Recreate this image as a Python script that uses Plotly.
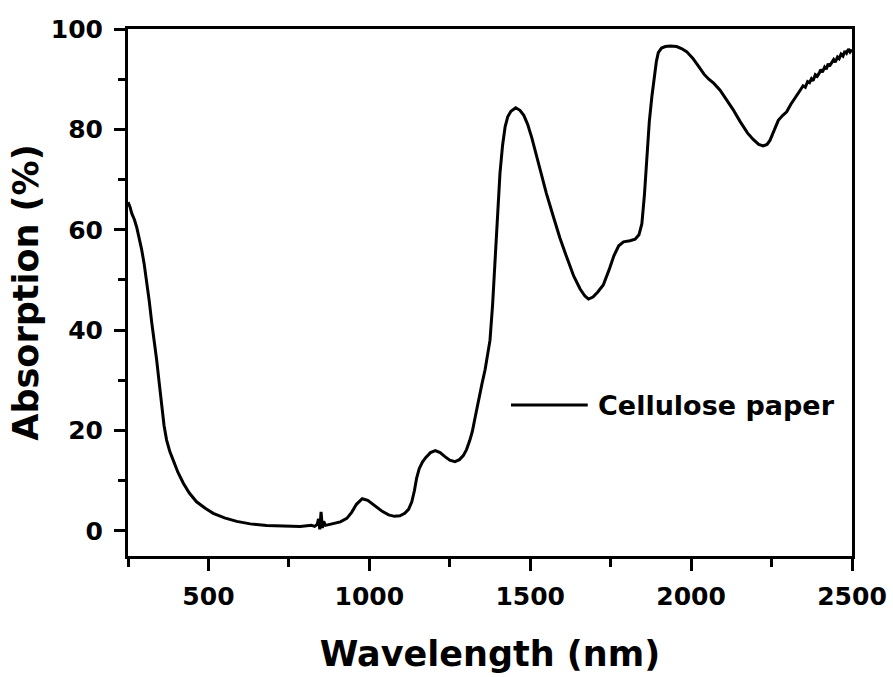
import plotly.graph_objects as go

# Absorption spectrum of cellulose paper (wavelength in nm, absorption in %)
wavelength = [
    250, 256, 262, 270, 277, 285, 292, 300, 308, 316, 324, 332, 339, 347, 355, 362, 370,
    380, 391, 405, 422, 440, 463, 490, 515, 550, 588, 630, 681, 730, 785, 820, 830, 838,
    842, 846, 850, 854, 858, 864, 875, 888, 910, 930, 945, 960, 978, 995, 1010, 1023,
    1040, 1060, 1078, 1095, 1110, 1122, 1132, 1140, 1147, 1155, 1165, 1175, 1190, 1205,
    1220, 1235, 1250, 1266, 1280, 1292, 1302, 1312, 1320, 1330, 1339, 1350, 1360, 1368,
    1375, 1383, 1391, 1398, 1406, 1414, 1422, 1430, 1440, 1455, 1468, 1480, 1492, 1505,
    1518, 1530, 1550, 1572, 1592, 1613, 1635, 1655, 1670, 1681, 1695, 1710, 1727, 1745,
    1760, 1775, 1790, 1810, 1826, 1838, 1847, 1855, 1862, 1870, 1878, 1885, 1892, 1898,
    1908, 1920, 1935, 1955, 1970, 1986, 2005, 2025, 2040, 2055, 2070, 2090, 2110, 2130,
    2152, 2175, 2193, 2210, 2224, 2236, 2245, 2253, 2262, 2271, 2285, 2297, 2310, 2325,
    2339, 2348, 2355, 2362, 2368, 2374, 2379, 2386, 2392, 2398, 2403, 2408, 2415, 2420,
    2426, 2430, 2436, 2443, 2448, 2455, 2460, 2466, 2472, 2478, 2483, 2489, 2494, 2500,
]
absorption = [
    65.5, 64.6, 63.2, 62.0, 60.5, 58.3, 56.2, 53.3, 50.0, 45.8, 41.4, 37.8, 34.1, 29.5,
    24.8, 21.0, 18.1, 15.8, 14.0, 11.7, 9.5, 7.6, 5.8, 4.5, 3.5, 2.6, 1.9, 1.4, 1.1, 1.0,
    0.9, 1.1, 0.9, 1.3, 2.4, 0.3, 3.8, 0.6, 1.9, 1.1, 1.3, 1.4, 1.8, 2.5, 3.7, 5.3, 6.4,
    6.1, 5.4, 4.8, 3.9, 3.2, 2.9, 3.0, 3.5, 4.3, 5.8, 8.0, 10.5, 12.4, 13.7, 14.6, 15.6,
    16.0, 15.6, 14.8, 14.1, 13.8, 14.2, 15.0, 16.2, 18.0, 19.8, 23.0, 26.1, 29.3, 32.2,
    35.0, 38.0, 45.0, 54.6, 63.0, 71.3, 76.8, 80.5, 82.5, 83.6, 84.3, 83.8, 82.8, 81.0,
    78.3, 75.0, 71.9, 67.3, 62.6, 58.4, 54.6, 50.8, 48.2, 46.8, 46.2, 46.6, 47.6, 49.0,
    52.0, 54.8, 56.8, 57.6, 57.8, 58.1, 59.0, 61.2, 67.0, 74.6, 81.5, 86.5, 90.2, 93.5,
    95.3, 96.2, 96.5, 96.6, 96.5, 96.1, 95.5, 94.2, 92.4, 91.0, 90.0, 89.2, 87.8, 86.0,
    84.0, 81.6, 79.3, 78.0, 77.0, 76.7, 77.0, 77.8, 79.0, 80.6, 81.8, 82.8, 83.5, 85.0,
    86.6, 87.8, 88.7, 88.4, 89.5, 89.3, 90.1, 89.7, 90.9, 90.6, 91.2, 91.9, 91.4, 92.4,
    92.0, 93.1, 92.6, 93.3, 93.9, 93.4, 94.4, 94.1, 95.0, 94.6, 95.6, 95.2, 96.0, 95.4,
    95.9,
]
series_name = "Cellulose paper"

x_ticks = [500, 1000, 1500, 2000, 2500]
y_ticks = [0, 20, 40, 60, 80, 100]

FONT = "DejaVu Sans"

fig = go.Figure()
fig.add_trace(go.Scatter(
    x=wavelength, y=absorption, mode="lines", name=series_name,
    line=dict(color="black", width=3), showlegend=False,
))

axis_common = dict(
    showline=True, linewidth=3, linecolor="black", mirror=True,
    showgrid=False, zeroline=False,
    ticks="outside", tickwidth=3, tickcolor="black",
    tickfont=dict(family=FONT, size=25, color="black", weight="bold"),
)

fig.update_xaxes(
    range=[250, 2500], tickvals=x_ticks, ticklen=12,
    minor=dict(dtick=250, tick0=250, ticks="outside", ticklen=8, tickwidth=3,
               tickcolor="black"),
    ticklabelstandoff=4,
    title=dict(text="Wavelength (nm)", standoff=32,
               font=dict(family=FONT, size=35, color="black", weight="bold")),
    **axis_common,
)
fig.update_yaxes(
    range=[-5, 100], tickvals=y_ticks, ticklen=11,
    minor=dict(dtick=10, tick0=0, ticks="outside", ticklen=7, tickwidth=3,
               tickcolor="black"),
    ticklabelstandoff=6,
    title=dict(text="Absorption (%)", standoff=2,
               font=dict(family=FONT, size=35, color="black", weight="bold")),
    **axis_common,
)

# Legend entry: sample line plus label
fig.add_shape(type="line", xref="paper", yref="paper",
              x0=0.529, x1=0.635, y0=0.2865, y1=0.2865,
              line=dict(color="black", width=3))
fig.add_annotation(xref="paper", yref="paper", x=0.646, y=0.2865,
                   xanchor="left", yanchor="middle", showarrow=False,
                   text=series_name,
                   font=dict(family=FONT, size=27, color="black", weight="bold"))

fig.update_layout(
    width=893, height=677,
    margin=dict(l=128, r=41, t=29, b=121, autoexpand=False),
    plot_bgcolor="white", paper_bgcolor="white",
)

fig.write_html("out.html")
